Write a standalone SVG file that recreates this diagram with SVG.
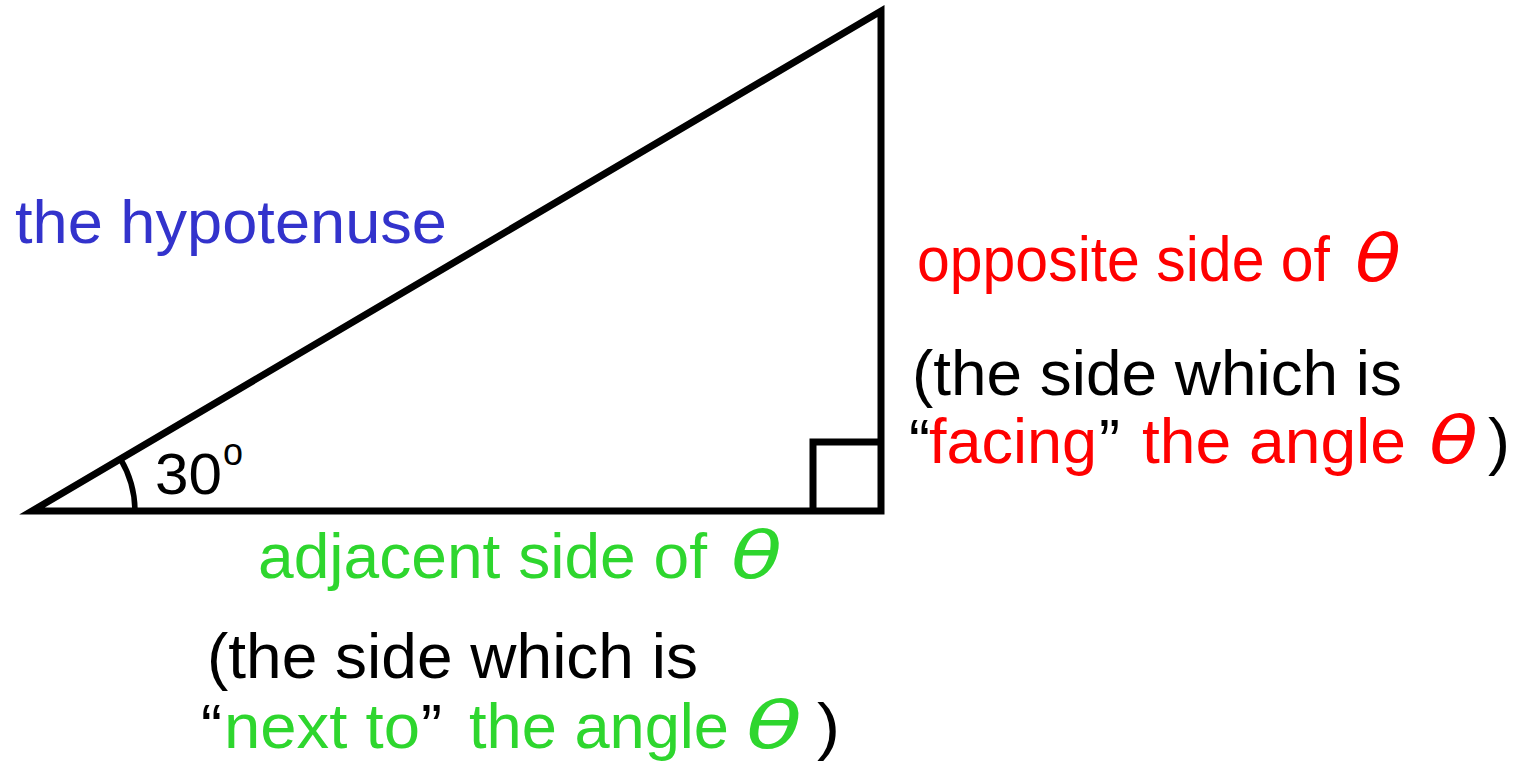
<svg xmlns="http://www.w3.org/2000/svg" width="1526" height="764" viewBox="0 0 1526 764">
<style>
text{font-family:"Liberation Sans",Arial,sans-serif;font-size:63px}
.b{fill:#3333CC}.r{fill:#FF0000}.g{fill:#2ED62E}.k{fill:#000}
.th{font-family:"DejaVu Sans",sans-serif;font-style:italic;font-size:66px}
.ln{fill:none;stroke:#000;stroke-width:7;stroke-linejoin:miter}
</style>
<rect width="1526" height="764" fill="#fff"/>
<g id="triangle">
<path class="ln" d="M32,511 L881,511 L881,11 Z"/>
<path class="ln" d="M813,511 L813,442 L881,442"/>
<path class="ln" d="M120.5,459 A103,103 0 0 1 135,511" style="stroke-width:5.5"/>
</g>
<g id="angle-label">
<text class="k" x="155" y="494" style="font-size:58px"><tspan textLength="67" lengthAdjust="spacingAndGlyphs">30</tspan><tspan x="223" y="465" style="font-size:38px" textLength="20" lengthAdjust="spacingAndGlyphs">o</tspan></text>
</g>
<g id="hypotenuse">
<text class="b" x="15" y="243" style="font-size:62px" textLength="432" lengthAdjust="spacingAndGlyphs">the hypotenuse</text>
</g>
<g id="opposite">
<text class="r" x="917" y="281"><tspan textLength="413" lengthAdjust="spacingAndGlyphs">opposite side of</tspan><tspan class="th" x="1355" textLength="46" lengthAdjust="spacingAndGlyphs">θ</tspan></text>
<text class="k" x="912" y="395" textLength="490" lengthAdjust="spacingAndGlyphs">(the side which is</text>
<text class="k" x="909" y="463">“<tspan class="r" x="929" textLength="168" lengthAdjust="spacingAndGlyphs">facing</tspan><tspan x="1099">”</tspan><tspan class="r" x="1142" textLength="264" lengthAdjust="spacingAndGlyphs">the angle</tspan><tspan class="r th" x="1429" textLength="49" lengthAdjust="spacingAndGlyphs">θ</tspan><tspan x="1488" textLength="22" lengthAdjust="spacingAndGlyphs">)</tspan></text>
</g>
<g id="adjacent">
<text class="g" x="258" y="578"><tspan textLength="449" lengthAdjust="spacingAndGlyphs">adjacent side of</tspan><tspan class="th" x="731" textLength="51" lengthAdjust="spacingAndGlyphs">θ</tspan></text>
<text class="k" x="207" y="678" textLength="491" lengthAdjust="spacingAndGlyphs">(the side which is</text>
<text class="k" x="201" y="748">“<tspan class="g" x="224" textLength="196" lengthAdjust="spacingAndGlyphs">next to</tspan><tspan x="421">”</tspan><tspan class="g" x="469" textLength="260" lengthAdjust="spacingAndGlyphs">the angle</tspan><tspan class="g th" x="746" textLength="56" lengthAdjust="spacingAndGlyphs">θ</tspan><tspan x="817" textLength="23" lengthAdjust="spacingAndGlyphs">)</tspan></text>
</g>
</svg>
